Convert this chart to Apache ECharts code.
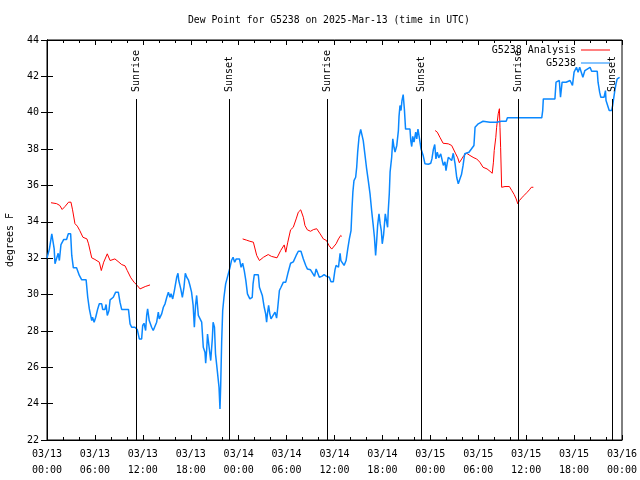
<!DOCTYPE html>
<html><head><meta charset="utf-8">
<script src="https://cdn.jsdelivr.net/npm/echarts@6/dist/echarts.min.js"></script>
<style>html,body{margin:0;padding:0;background:#fff}#c{width:640px;height:480px}</style>
</head><body><div id="c"></div>
<script>
// hours since 2025-03-13 00:00 UTC
const obsTimes = [0,0.3,0.6,0.8,0.9,1.0,1.2,1.4,1.55,1.7,1.75,1.95,2.1,2.45,2.67,2.96,3.1,3.3,3.7,4.05,4.35,4.9,5.1,5.3,5.6,5.7,5.9,6.1,6.35,6.55,6.85,6.97,7.25,7.4,7.55,7.76,7.9,8.3,8.6,8.93,9.14,9.35,10.2,10.4,10.6,11.0,11.3,11.56,11.85,11.98,12.15,12.35,12.48,12.6,12.8,13.1,13.3,13.5,13.73,13.94,14.06,14.36,14.57,14.78,15.0,15.2,15.4,15.53,15.74,15.95,16.24,16.4,16.5,16.75,16.95,17.15,17.32,17.5,17.7,17.9,18.1,18.3,18.45,18.6,18.74,18.95,19.15,19.37,19.57,19.78,19.87,20.0,20.1,20.3,20.5,20.7,20.8,20.97,21.1,21.3,21.54,21.66,21.75,21.87,22.0,22.16,22.37,22.5,22.7,22.9,23.1,23.3,23.5,23.7,24.1,
24.3,24.5,24.7,24.9,25.1,25.4,25.7,25.8,25.96,26.46,26.6,26.75,26.96,27.2,27.38,27.5,27.6,27.75,27.9,28.05,28.3,28.55,28.75,28.9,29.1,29.3,29.6,29.9,30.2,30.5,30.84,31.2,31.47,31.8,32.1,32.4,32.6,33.0,33.27,33.5,33.7,33.9,34.1,34.4,34.7,35.0,35.35,35.56,35.85,36.06,36.2,36.5,36.7,36.8,37.0,37.2,37.3,37.45,37.66,37.86,38.07,38.2,38.3,38.44,38.65,38.78,38.9,39.07,39.28,39.48,39.6,39.8,40.0,40.23,40.45,40.65,40.85,41.0,41.15,41.27,41.4,41.57,41.72,41.86,41.98,42.15,42.36,42.5,42.65,42.72,42.86,42.96,43.16,43.3,43.45,43.58,43.8,44.0,44.08,44.2,44.33,44.45,44.6,44.75,44.9,45.45,45.55,45.67,45.8,45.96,46.17,46.3,46.45,46.6,46.83,47.1,47.33,47.75,
48.05,48.2,48.37,48.55,48.7,48.87,49.05,49.3,49.5,49.63,49.83,49.96,50.1,50.25,50.46,50.67,50.87,51.1,51.3,51.5,51.7,51.9,52.1,52.3,52.55,52.84,53.16,53.46,53.6,53.8,54.0,54.2,54.6,55.47,56.3,56.9,57.5,57.65,61.95,62.07,62.15,63.6,63.74,63.9,64.15,64.3,64.5,64.6,65.0,65.5,65.8,66.0,66.2,66.3,66.5,66.7,66.9,67.1,67.35,67.6,68.0,68.2,68.9,69.0,69.2,69.35,69.75,69.93,70.0,70.25,70.4,70.7,70.83,71.0,71.1,71.25,71.4,71.7];
const obsValues = [32.0,32.5,33.34,33.34,32.51,31.69,31.6,32.27,31.87,31.78,32.75,32.77,33.03,33.03,33.34,33.34,32.15,31.47,31.47,31.05,30.81,30.81,29.85,29.21,28.57,28.75,28.48,28.75,29.21,29.49,29.49,29.18,29.18,29.45,28.85,29.12,29.71,29.85,30.13,30.13,29.58,29.18,29.18,28.39,28.2,28.2,28.08,27.56,27.56,28.3,28.42,28.02,28.85,29.21,28.57,28.2,28.02,28.02,28.48,29.03,28.66,28.94,29.3,29.49,29.85,30.13,29.85,30.04,29.76,30.22,30.95,31.17,30.77,30.31,29.85,30.4,31.17,30.95,30.81,30.5,30.13,29.4,28.2,29.4,29.95,28.85,28.85,28.48,27.1,26.83,26.22,27.0,27.83,27.92,26.37,27.56,28.48,28.2,26.74,25.91,24.9,23.71,25.0,27.38,29.12,29.85,30.59,30.68,31.14,31.47,31.87,32.05,31.78,31.96,31.96,
31.5,31.72,31.32,30.77,30.04,29.76,29.85,30.59,31.09,31.09,30.4,30.5,29.95,29.3,28.94,28.48,28.94,29.4,28.94,28.66,28.66,29.03,28.7,29.3,30.22,30.4,30.68,30.68,31.23,31.72,31.8,32.15,32.38,32.38,31.96,31.6,31.41,31.36,31.17,31.0,31.41,31.36,30.95,31.0,31.09,31.0,30.95,30.7,30.7,31.36,31.6,31.5,32.27,31.87,31.87,31.6,31.5,31.87,32.51,33.06,33.52,34.8,35.63,36.27,36.45,37.0,37.83,38.65,39.08,38.97,38.47,37.74,37.0,36.27,35.54,34.62,33.8,33.15,32.15,32.88,33.8,34.44,33.9,33.52,32.79,33.3,34.44,34.07,33.7,34.53,35.54,36.73,37.55,38.56,38.1,37.83,38.2,39.02,39.8,40.4,40.12,40.67,41.0,40.2,39.1,39.1,38.47,38.14,38.7,38.38,38.93,38.56,39.1,38.7,38.02,37.65,37.19,37.17,
37.22,37.46,37.96,38.25,37.46,37.83,37.52,37.74,37.74,37.1,37.3,36.82,37.19,37.55,37.55,37.37,37.77,37.19,36.45,36.09,36.36,36.6,37.1,37.74,37.7,37.83,38.02,38.2,39.2,39.3,39.39,39.48,39.53,39.48,39.48,39.53,39.53,39.72,39.72,40.12,40.76,40.76,41.68,41.77,41.77,40.85,41.68,41.77,41.68,41.77,41.5,42.23,42.32,42.5,42.23,42.5,42.23,41.95,42.32,42.42,42.5,42.28,42.28,41.68,41.13,40.85,40.85,41.22,40.67,40.58,40.12,40.12,40.4,40.5,41.22,41.59,41.86,41.95];

const anaTimes = [0.5,1.2,1.6,1.9,2.25,2.7,3.0,3.2,3.5,3.8,4.1,4.5,5.0,5.2,5.6,6.0,6.55,6.8,7.1,7.55,7.76,7.9,8.5,8.9,9.35,9.77,10.05,10.5,10.9,11.3,11.65,12.3,12.55,12.9,18,
24.5,25.0,25.4,25.84,26.26,26.6,27.1,27.7,28.1,28.8,29.26,29.7,29.9,30.15,30.5,30.84,31.2,31.47,31.77,32.1,32.3,32.6,33.0,33.35,33.77,34.2,34.6,35.0,35.3,35.65,35.85,36.2,36.5,36.78,36.9,42,
48.6,48.87,49.2,49.6,49.84,50.25,50.67,50.87,51.18,51.43,51.63,51.93,52.2,52.55,52.96,53.46,53.8,54.2,54.6,55.1,55.47,55.75,55.9,56.0,56.2,56.3,56.5,56.65,56.72,56.8,56.93,57.35,57.9,58.2,58.5,58.75,58.95,59.15,59.45,59.73,60.07,60.4,60.65,60.9];
const anaValues = [35.05,35.0,34.9,34.68,34.84,35.08,35.08,34.66,33.9,33.76,33.52,33.15,33.06,32.79,32.02,31.93,31.78,31.32,31.78,32.24,32.24,31.87,31.96,31.82,31.65,31.58,31.32,30.92,30.68,30.5,30.31,30.44,30.53,30.53,null,
33.06,32.99,32.93,32.88,32.15,31.87,32.05,32.2,32.1,32.02,32.42,32.73,32.33,32.88,33.56,33.7,34.16,34.53,34.66,34.25,33.8,33.56,33.48,33.57,33.62,33.34,33.06,32.97,32.7,32.5,32.5,32.79,33.06,33.25,33.2,null,
39.02,38.93,38.65,38.32,38.4,38.29,38.2,38.14,37.74,37.52,37.25,37.46,37.65,37.77,37.65,37.52,37.46,37.28,37.0,36.91,36.78,36.67,37.28,37.92,38.65,39.2,39.94,40.22,39.2,38.1,35.9,35.94,35.94,35.72,35.5,35.26,34.99,35.17,35.32,35.45,35.6,35.76,35.9,35.9];

const sunTimes = [11.1, 22.83, 35.1, 46.87, 59.02, 70.8];
const sunLabels = ['Sunrise','Sunset','Sunrise','Sunset','Sunrise','Sunset'];

const FONT = '"DejaVu Sans Mono", "Liberation Mono", monospace';
function fmtTick(h){
  const day = 13 + Math.floor(h/24);
  const hr = Math.round(h % 24);
  return '03/' + day + '\n' + (hr<10?'0':'') + hr + ':00';
}
const chart = echarts.init(document.getElementById('c'), null, {renderer:'canvas'});
const tickBase = {show:true, inside:true, length:5, lineStyle:{color:'#000'}};
const minorBase = {show:true, splitNumber:3, length:3, lineStyle:{color:'#000'}};
chart.setOption({
  animation:false,
  backgroundColor:'#fff',
  title:{text:'Dew Point for G5238 on 2025-Mar-13 (time in UTC)', left:188, top:15, padding:0,
    textStyle:{fontFamily:FONT, fontSize:9.75, fontWeight:'normal', color:'#000'}},
  legend:{orient:'vertical', right:30, top:44, padding:0, align:'right', itemWidth:29, itemHeight:1, itemGap:1,
    textStyle:{fontFamily:FONT, fontSize:10, color:'#000', lineHeight:12},
    data:[{name:'G5238 Analysis', icon:'rect'},{name:'G5238', icon:'rect'}]},
  grid:{left:47, right:18, top:40, bottom:40, outerBoundsMode:'none', containLabel:false,
    show:true, borderColor:'#000', borderWidth:1, backgroundColor:'transparent'},
  xAxis:[{type:'value', min:0, max:72, interval:6, position:'bottom',
      axisLine:{show:true, lineStyle:{color:'#000'}}, axisTick:tickBase, minorTick:minorBase,
      splitLine:{show:false},
      axisLabel:{formatter:fmtTick, fontFamily:FONT, fontSize:10, color:'#000', margin:6, lineHeight:16}},
    {type:'value', min:0, max:72, interval:6, position:'top',
      axisLine:{show:true, lineStyle:{color:'#000'}}, axisTick:tickBase, minorTick:minorBase,
      splitLine:{show:false}, axisLabel:{show:false}}],
  yAxis:[{type:'value', min:22, max:44, interval:2, position:'left', name:'degrees F', nameLocation:'middle', nameGap:32,
      nameTextStyle:{fontFamily:FONT, fontSize:10, color:'#000'},
      axisLine:{show:true, lineStyle:{color:'#000'}}, axisTick:{show:true, inside:true, length:6, lineStyle:{color:'#000'}},
      splitLine:{show:false},
      axisLabel:{fontFamily:FONT, fontSize:10, color:'#000', margin:8}},
    {type:'value', min:22, max:44, interval:2, position:'right',
      axisLine:{show:true, lineStyle:{color:'#000'}}, axisTick:{show:true, inside:true, length:6, lineStyle:{color:'#000'}},
      splitLine:{show:false}, axisLabel:{show:false}}],
  series:[
    {name:'G5238 Analysis', type:'line', xAxisIndex:0, yAxisIndex:0, symbol:'none', connectNulls:false,
      color:'#ff0000', lineStyle:{color:'#ff0000', width:1}, emphasis:{disabled:true},
      data: anaTimes.map((t,i)=>[t, anaValues[i]])},
    {name:'G5238', type:'line', xAxisIndex:0, yAxisIndex:0, symbol:'none',
      color:'#0a88ff', lineStyle:{color:'#0a88ff', width:1.5}, emphasis:{disabled:true},
      data: obsTimes.map((t,i)=>[t, obsValues[i]])},
    {name:'sun', type:'custom', xAxisIndex:0, yAxisIndex:0, z:5, silent:true,
      data: sunTimes.map(t=>[t, 30]),
      renderItem:function(params, api){
        const t = api.value(0);
        const b = api.coord([t, 22]);
        const tp = api.coord([t, 44]);
        const x = Math.round(b[0]) + 0.5;
        return {type:'group', children:[
          {type:'line', shape:{x1:x, y1:b[1], x2:x, y2:tp[1]+59}, style:{stroke:'#000', lineWidth:1}},
          {type:'text', x:x, y:tp[1]+52, rotation:Math.PI/2,
            style:{text:sunLabels[params.dataIndex], align:'left', verticalAlign:'middle', font:'10px ' + FONT, fill:'#000'}}
        ]};
      }}
  ]
});
</script></body></html>
